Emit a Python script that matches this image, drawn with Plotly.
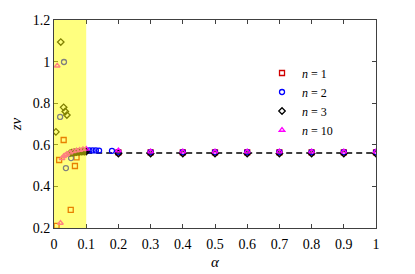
import plotly.graph_objects as go

# ---------- data ----------
alpha_n1 = [0.008, 0.016, 0.03, 0.052, 0.065, 0.07,
            0.2, 0.3, 0.4, 0.5, 0.6, 0.7, 0.8, 0.9, 1.0]
zv_n1 = [0.21, 0.527, 0.623, 0.287, 0.498, 0.54,
         0.564, 0.564, 0.564, 0.564, 0.564, 0.564, 0.564, 0.564, 0.564]

alpha_n2 = [0.019, 0.031, 0.037, 0.053, 0.1, 0.11, 0.12, 0.13, 0.14, 0.18,
            0.2, 0.3, 0.4, 0.5, 0.6, 0.7, 0.8, 0.9, 1.0]
zv_n2 = [0.734, 0.998, 0.488, 0.536, 0.572, 0.573, 0.573, 0.573, 0.572, 0.571,
         0.565, 0.565, 0.565, 0.565, 0.565, 0.565, 0.565, 0.565, 0.565]

alpha_n3 = [0.006, 0.021, 0.03, 0.035, 0.04,
            0.05, 0.055, 0.06, 0.065, 0.07, 0.075, 0.08, 0.085, 0.09, 0.095, 0.1,
            0.2, 0.3, 0.4, 0.5, 0.6, 0.7, 0.8, 0.9, 1.0]
zv_n3 = [0.662, 1.094, 0.78, 0.76, 0.743,
         0.56, 0.562, 0.563, 0.564, 0.565, 0.566, 0.566, 0.567, 0.567, 0.567, 0.567,
         0.558, 0.558, 0.558, 0.558, 0.558, 0.558, 0.558, 0.558, 0.558]

alpha_n10 = [0.01, 0.02, 0.025, 0.03, 0.035, 0.04, 0.05, 0.06, 0.07, 0.08, 0.09, 0.1,
             0.2, 0.3, 0.4, 0.5, 0.6, 0.7, 0.8, 0.9, 1.0]
zv_n10 = [0.98, 0.224, 0.535, 0.545, 0.55, 0.555, 0.562, 0.568, 0.572, 0.575, 0.578, 0.58,
          0.572, 0.567, 0.567, 0.567, 0.567, 0.567, 0.567, 0.567, 0.567]

fit_alpha = [0.1, 1.0]
fit_zv = [0.561, 0.561]

x_ticks = [0, 0.1, 0.2, 0.3, 0.4, 0.5, 0.6, 0.7, 0.8, 0.9, 1]
x_labels = ['0', '0.1', '0.2', '0.3', '0.4', '0.5', '0.6', '0.7', '0.8', '0.9', '1']
y_ticks = [0.2, 0.4, 0.6, 0.8, 1.0, 1.2]
y_labels = ['0.2', '0.4', '0.6', '0.8', '1', '1.2']

SERIF = 'Liberation Serif, Times New Roman, serif'

fig = go.Figure()

fig.add_trace(go.Scatter(x=fit_alpha, y=fit_zv, mode='lines', showlegend=False,
                         line=dict(color='black', width=1.5, dash='6px,4px')))

series = [
    (alpha_n1, zv_n1, 'square-open', '#D00000', '<i>n</i> = 1'),
    (alpha_n2, zv_n2, 'circle-open', '#0000FF', '<i>n</i> = 2'),
    (alpha_n3, zv_n3, 'diamond-open', 'black', '<i>n</i> = 3'),
    (alpha_n10, zv_n10, 'triangle-up-open', '#FF00FF', '<i>n</i> = 10'),
]
for xs, ys, sym, col, name in series:
    fig.add_trace(go.Scatter(
        x=xs, y=ys, mode='markers', name=name,
        marker=dict(symbol=sym, size=5, color=col, line=dict(width=1.3, color=col))
    ))

# translucent yellow band over the small-alpha region
fig.add_shape(type='rect', xref='x', yref='y', x0=0, x1=0.1, y0=0.2, y1=1.2,
              fillcolor='yellow', opacity=0.5, line_width=0, layer='above')

axis_common = dict(showline=True, linecolor='#404040', linewidth=1, mirror='ticks',
                   ticks='inside', ticklen=4, tickcolor='#404040',
                   showgrid=False, zeroline=False, automargin=False,
                   tickfont=dict(family=SERIF, size=14, color='black'))

# page body adds an 8px offset, margins compensate for it
fig.update_layout(
    width=415, height=274,
    margin=dict(l=46, r=47, t=12, b=54, autoexpand=False),
    paper_bgcolor='white', plot_bgcolor='white',
    font=dict(family=SERIF, size=13, color='black'),
    xaxis=dict(range=[0, 1], tickvals=x_ticks, ticktext=x_labels, ticklabelstandoff=3,
               title=dict(text='<i>α</i>', standoff=5, font=dict(size=15)), **axis_common),
    yaxis=dict(range=[0.2, 1.2], tickvals=y_ticks, ticktext=y_labels,
               title=dict(text='<i>zν</i>', standoff=7, font=dict(size=15)), **axis_common),
    legend=dict(x=0.646, y=0.815, xanchor='left', yanchor='top',
                bgcolor='rgba(0,0,0,0)', font=dict(family=SERIF, size=12),
                itemwidth=30, tracegroupgap=0),
)

fig.write_html("out.html")
